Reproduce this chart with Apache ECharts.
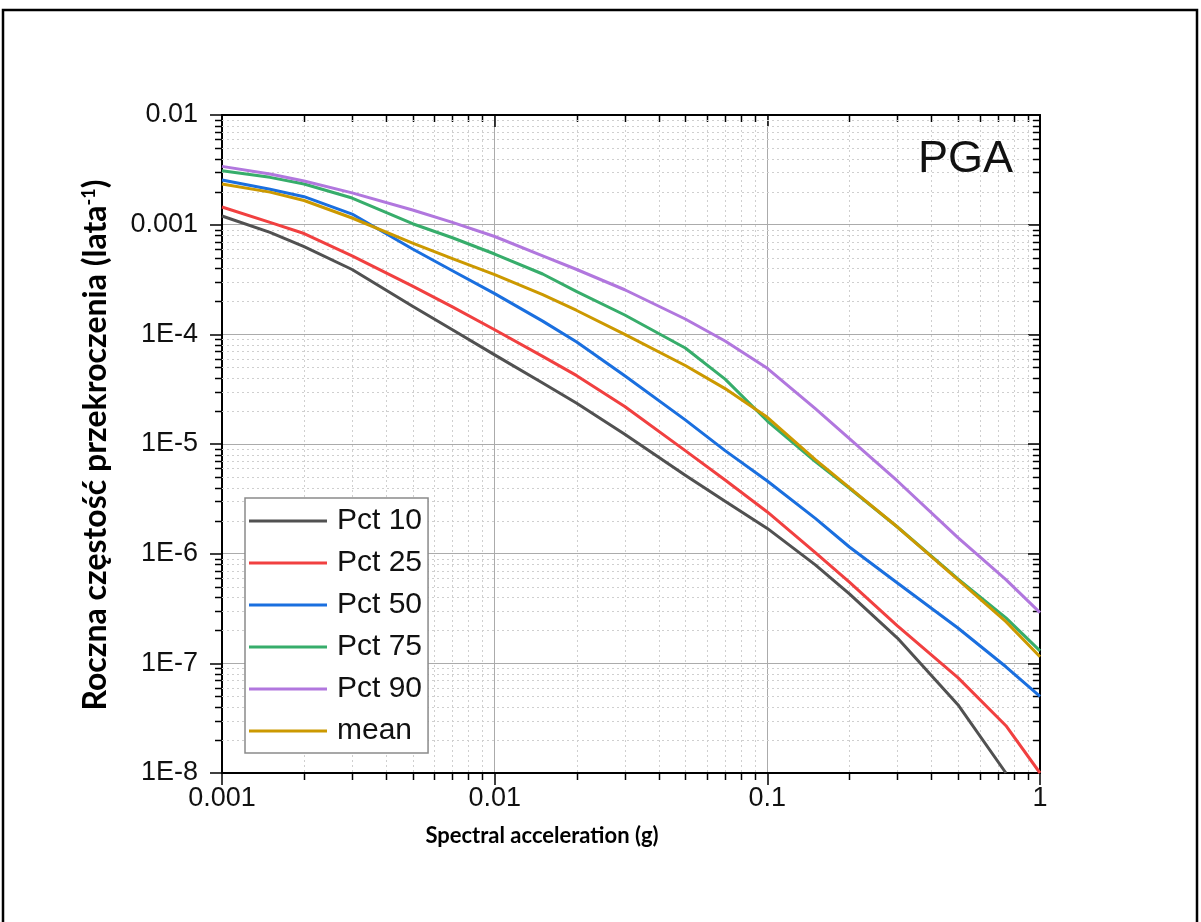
<!DOCTYPE html>
<html>
<head>
<meta charset="utf-8">
<script src="https://cdn.jsdelivr.net/npm/echarts@6/dist/echarts.min.js"></script>
<style>
  html, body { margin: 0; padding: 0; background: #fff; }
  #chart { width: 1201px; height: 922px; }
</style>
</head>
<body>
<div id="chart"></div>
<script>
// spectral acceleration (g)
var xs = [0.001, 0.0015, 0.002, 0.003, 0.005, 0.007, 0.01, 0.015, 0.02, 0.03, 0.05, 0.07, 0.1, 0.15, 0.2, 0.3, 0.5, 0.75, 1];

// roczna czestosc przekroczenia
var pct10 = [1.2e-3, 8.5e-4, 6.3e-4, 3.9e-4, 1.8e-4, 1.1e-4, 6.5e-5, 3.6e-5, 2.35e-5, 1.23e-5, 5.2e-6, 3.0e-6, 1.7e-6, 7.9e-7, 4.3e-7, 1.7e-7, 4.2e-8, 1.0e-8, null];
var pct25 = [1.45e-3, 1.05e-3, 8.3e-4, 5.2e-4, 2.75e-4, 1.78e-4, 1.1e-4, 6.3e-5, 4.2e-5, 2.2e-5, 8.7e-6, 4.7e-6, 2.4e-6, 1.02e-6, 5.5e-7, 2.2e-7, 7.4e-8, 2.7e-8, 1.0e-8];
var pct50 = [2.55e-3, 2.1e-3, 1.8e-3, 1.25e-3, 6.0e-4, 3.8e-4, 2.35e-4, 1.32e-4, 8.5e-5, 4.2e-5, 1.66e-5, 8.7e-6, 4.6e-6, 2.1e-6, 1.15e-6, 5.4e-7, 2.1e-7, 9.3e-8, 5.0e-8];
var pct75 = [3.1e-3, 2.7e-3, 2.35e-3, 1.75e-3, 1.02e-3, 7.6e-4, 5.4e-4, 3.55e-4, 2.45e-4, 1.5e-4, 7.5e-5, 3.9e-5, 1.62e-5, 6.9e-6, 3.95e-6, 1.75e-6, 5.9e-7, 2.6e-7, 1.3e-7];
var pct90 = [3.4e-3, 2.9e-3, 2.5e-3, 1.95e-3, 1.36e-3, 1.05e-3, 7.8e-4, 5.2e-4, 3.9e-4, 2.55e-4, 1.38e-4, 8.7e-5, 4.9e-5, 2.1e-5, 1.12e-5, 4.6e-6, 1.4e-6, 5.8e-7, 2.9e-7];
var mean  = [2.35e-3, 1.98e-3, 1.66e-3, 1.15e-3, 6.8e-4, 4.9e-4, 3.5e-4, 2.3e-4, 1.65e-4, 1.0e-4, 5.2e-5, 3.2e-5, 1.75e-5, 7.2e-6, 4.0e-6, 1.75e-6, 5.8e-7, 2.4e-7, 1.15e-7];

var names = ['Pct 10', 'Pct 25', 'Pct 50', 'Pct 75', 'Pct 90', 'mean'];
var colors = ['#515151', '#F14040', '#1A6FDF', '#37AD6B', '#B177DE', '#CC9900'];
var values = [pct10, pct25, pct50, pct75, pct90, mean];

// podzialki pomocnicze (2..9 w kazdej dekadzie)
var minorMult = [2, 3, 4, 5, 6, 7, 8, 9];
var xDecades = [0.001, 0.01, 0.1];
var yDecades = [1e-8, 1e-7, 1e-6, 1e-5, 1e-4, 1e-3];

var X_MIN = 0.001, X_MAX = 1, Y_MIN = 1e-8, Y_MAX = 0.01;
var FONT = '"Liberation Sans", Arial, sans-serif';
var BOLD_FONT = 'Lato, "Open Sans", sans-serif';

var minorData = [];
xDecades.forEach(function (d) {
    minorMult.forEach(function (m) { minorData.push([d * m, Y_MIN, 0]); });
});
yDecades.forEach(function (d) {
    minorMult.forEach(function (m) { minorData.push([X_MIN, d * m, 1]); });
});

function pairs(arr) {
    var out = [];
    for (var i = 0; i < xs.length; i++) {
        if (arr[i] != null) out.push([xs[i], arr[i]]);
    }
    return out;
}

function expLabel(v) {
    var e = Math.round(Math.log10(v));
    if (e >= -3) return e >= 0 ? String(Math.round(v)) : v.toFixed(-e);
    return '1E' + e;
}

var gridStyle = { stroke: '#cfcfcf', lineWidth: 1, lineDash: [2, 3] };
var tickStyle = { stroke: '#000', lineWidth: 1.5 };

function renderMinor(params, api) {
    var cs = params.coordSys;
    var left = cs.x, top = cs.y, right = cs.x + cs.width, bottom = cs.y + cs.height;
    if (api.value(2) === 0) {
        var px = Math.round(api.coord([api.value(0), Y_MIN])[0]) + 0.5;
        return { type: 'group', children: [
            { type: 'line', shape: { x1: px, y1: top, x2: px, y2: bottom }, style: gridStyle, z2: 0 },
            { type: 'line', shape: { x1: px, y1: bottom, x2: px, y2: bottom + 7 }, style: tickStyle },
            { type: 'line', shape: { x1: px, y1: top, x2: px, y2: top + 7 }, style: tickStyle }
        ]};
    }
    var py = Math.round(api.coord([X_MIN, api.value(1)])[1]) + 0.5;
    return { type: 'group', children: [
        { type: 'line', shape: { x1: left, y1: py, x2: right, y2: py }, style: gridStyle, z2: 0 },
        { type: 'line', shape: { x1: left - 7, y1: py, x2: left, y2: py }, style: tickStyle },
        { type: 'line', shape: { x1: right - 7, y1: py, x2: right, y2: py }, style: tickStyle }
    ]};
}

var series = [{
    type: 'custom',
    name: 'minor',
    renderItem: renderMinor,
    data: minorData,
    clip: false,
    silent: true,
    z: 1,
    encode: { x: 0, y: 1 }
}];
names.forEach(function (n, i) {
    series.push({
        name: n,
        type: 'line',
        data: pairs(values[i]),
        showSymbol: false,
        smooth: false,
        color: colors[i],
        lineStyle: { width: 3, color: colors[i], join: 'round' },
        z: 3
    });
});

var chart = echarts.init(document.getElementById('chart'));
chart.setOption({
    backgroundColor: '#fff',
    animation: false,
    grid: { left: 222, right: 161, top: 115, bottom: 149, outerBoundsMode: 'none' },
    legend: {
        data: names,
        orient: 'vertical',
        left: 245,
        top: 498,
        icon: 'rect',
        itemWidth: 78,
        itemHeight: 3,
        itemGap: 8,
        padding: [6, 6, 5, 4],
        borderColor: '#8a8a8a',
        borderWidth: 1.5,
        backgroundColor: '#fff',
        textStyle: { fontSize: 30, fontFamily: FONT, color: '#111', lineHeight: 34, padding: [0, 0, 0, 5] },
        z: 10
    },
    xAxis: [{
        type: 'log', logBase: 10, min: X_MIN, max: X_MAX, position: 'bottom',
        axisLine: { onZero: false, lineStyle: { color: '#000', width: 2 } },
        axisTick: { inside: false, length: 12, lineStyle: { color: '#000', width: 1.5 } },
        axisLabel: { margin: 12, fontSize: 27, fontFamily: FONT, color: '#111', formatter: expLabel },
        splitLine: { show: true, lineStyle: { color: '#ababab', width: 1 } },
        minorTick: { show: false }
    }, {
        type: 'log', logBase: 10, min: X_MIN, max: X_MAX, position: 'top',
        axisLine: { onZero: false, lineStyle: { color: '#000', width: 2 } },
        axisTick: { inside: true, length: 12, lineStyle: { color: '#000', width: 1.5 } },
        axisLabel: { show: false },
        splitLine: { show: false }
    }],
    yAxis: [{
        type: 'log', logBase: 10, min: Y_MIN, max: Y_MAX, position: 'left',
        axisLine: { onZero: false, lineStyle: { color: '#000', width: 2 } },
        axisTick: { inside: false, length: 12, lineStyle: { color: '#000', width: 1.5 } },
        axisLabel: { margin: 24, fontSize: 27, fontFamily: FONT, color: '#111', formatter: expLabel },
        splitLine: { show: true, lineStyle: { color: '#ababab', width: 1 } }
    }, {
        type: 'log', logBase: 10, min: Y_MIN, max: Y_MAX, position: 'right',
        axisLine: { onZero: false, lineStyle: { color: '#000', width: 2 } },
        axisTick: { inside: true, length: 12, lineStyle: { color: '#000', width: 1.5 } },
        axisLabel: { show: false },
        splitLine: { show: false }
    }],
    graphic: [
        {
            type: 'rect', silent: true, z: 0,
            shape: { x: 3, y: 10, width: 1194, height: 1000 },
            style: { fill: 'none', stroke: '#000', lineWidth: 2.5 }
        },
        {
            type: 'text', x: 1013, y: 160, z: 20,
            style: { text: 'PGA', font: '45px ' + FONT, fill: '#111', align: 'right', verticalAlign: 'middle' }
        },
        {
            type: 'text', x: 96, y: 445, rotation: Math.PI / 2, z: 20,
            style: {
                text: '{a|Roczna częstość przekroczenia (lata}{s|-1}{a|)}',
                align: 'center', verticalAlign: 'middle',
                rich: {
                    a: { fontSize: 32, fontWeight: 'bold', fontFamily: BOLD_FONT, fill: '#000' },
                    s: { fontSize: 18, fontWeight: 'bold', fontFamily: BOLD_FONT, fill: '#000', padding: [0, 0, 14, 0] }
                }
            }
        },
        {
            type: 'text', x: 542, y: 836, z: 20,
            style: { text: 'Spectral acceleration (g)', font: 'bold 22px ' + BOLD_FONT, fill: '#000', align: 'center', verticalAlign: 'middle' }
        }
    ],
    series: series
});
</script>
</body>
</html>
